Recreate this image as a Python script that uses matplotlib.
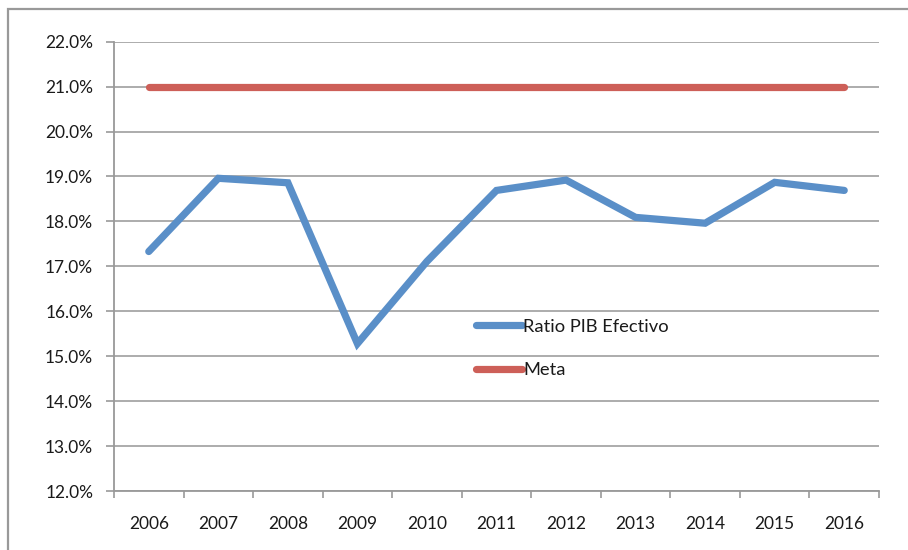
import matplotlib
matplotlib.use("Agg")
import matplotlib.pyplot as plt
from matplotlib.patches import Rectangle

years = ["2006", "2007", "2008", "2009", "2010", "2011", "2012", "2013", "2014", "2015", "2016"]
ratio_pib = [17.33, 18.96, 18.86, 15.28, 17.11, 18.69, 18.92, 18.09, 17.96, 18.87, 18.69]
meta = [21.0] * len(years)
yticks = [12, 13, 14, 15, 16, 17, 18, 19, 20, 21, 22]

W, H = 908, 550
fig = plt.figure(figsize=(W / 100, H / 100), dpi=100)
plt.rcParams['font.family'] = ['Lato', 'DejaVu Sans']

# outer chart frame (cropped on right/bottom)
fig.patches.append(Rectangle((8 / W, -0.5), 3.0, 1 - 9 / H + 0.5, transform=fig.transFigure,
                             fill=False, edgecolor='#999999', linewidth=1.6))

ax = fig.add_axes([114 / W, 1 - 491 / H, (879 - 114) / W, (491 - 41.7) / H])
ax.set_facecolor('none')

x = list(range(len(years)))
blue = '#5A8FC8'
red = '#CD5F58'
ax.plot(x, ratio_pib, color=blue, linewidth=5.2, solid_capstyle='round', solid_joinstyle='miter',
        label='Ratio PIB Efectivo', zorder=3)
ax.plot(x, meta, color=red, linewidth=5.2, solid_capstyle='round', label='Meta', zorder=3)

ax.set_xlim(-0.5, len(years) - 0.5)
ax.set_ylim(12, 22)
ax.set_yticks(yticks)
ax.set_yticklabels([f"{v:.1f}%" for v in yticks], fontsize=12.5, color='#1a1a1a')
ax.set_xticks([i - 0.5 for i in range(len(years) + 1)])
ax.set_xticklabels([])
ax.set_xticks(x, minor=True)
ax.set_xticklabels(years, minor=True, fontsize=12.5, color='#1a1a1a')
ax.tick_params(axis='x', which='minor', length=0, pad=18)
ax.tick_params(axis='x', which='major', length=5, width=1.2, color='#999999', direction='out')
ax.tick_params(axis='y', length=5.5, width=1.2, color='#999999', direction='out', pad=9.5)

ax.grid(axis='y', color='#A6A6A6', linewidth=1.3, zorder=0)
ax.set_axisbelow(True)
for s in ['top', 'right']:
    ax.spines[s].set_visible(False)
for s in ['left', 'bottom']:
    ax.spines[s].set_color('#999999')
    ax.spines[s].set_linewidth(1.3)

leg = ax.legend(loc='upper left', bbox_to_anchor=(475.7 / W, 1 - 318.5 / H), bbox_transform=fig.transFigure,
                frameon=False, fontsize=13.2, handlelength=2.5, handletextpad=0.1,
                labelspacing=1.5, borderpad=0, borderaxespad=0)
for t in leg.get_texts():
    t.set_color('#1a1a1a')

fig.savefig('out.png', dpi=100)
